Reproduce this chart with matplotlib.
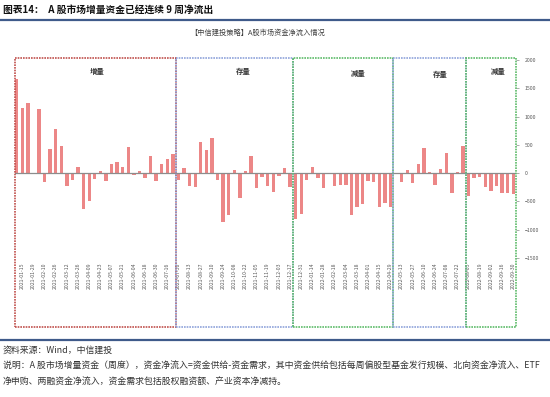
import matplotlib
matplotlib.use("Agg")
import matplotlib.pyplot as plt
from matplotlib.patches import Rectangle

plt.rcParams['font.family'] = ['Noto Sans CJK SC', 'DejaVu Sans']

# weekly net inflow (亿元), 2021-01-08 .. 2022-09-30
inflow = [1658, 1147, 1247, -20, 1135, -165, 435, 788, 476, -235,
          -118, 112, -635, -500, -100, 35, -135, 165, 194, 112,
          459, -41, 41, -94, 306, -141, 159, 253, 347, -118,
          94, -235, -247, 547, 406, 617, -129, -864, -741, 59,
          -447, 35, 300, -270, -65, -229, -341, -59, 82, -253,
          -811, -729, -129, 106, -88, -259, -18, -223, -218, -212,
          -747, -606, -553, -147, -159, -606, -523, -606, 0, -159,
          59, -182, 153, 447, 18, -212, 71, 353, -353, 12,
          476, -400, -94, -65, -247, -312, -223, -353, -347, -365]

tick_labels = ['2021-01-15', '2021-01-29', '2021-02-10', '2021-02-26', '2021-03-12',
               '2021-03-26', '2021-04-09', '2021-04-23', '2021-05-07', '2021-05-21',
               '2021-06-04', '2021-06-18', '2021-06-30', '2021-07-16', '2021-07-30',
               '2021-08-13', '2021-08-27', '2021-09-10', '2021-09-24', '2021-10-08',
               '2021-10-22', '2021-11-05', '2021-11-19', '2021-12-03', '2021-12-17',
               '2021-12-31', '2022-01-14', '2022-01-28', '2022-02-18', '2022-03-04',
               '2022-03-18', '2022-04-01', '2022-04-15', '2022-04-29', '2022-05-13',
               '2022-05-27', '2022-06-10', '2022-06-24', '2022-07-08', '2022-07-22',
               '2022-08-05', '2022-08-19', '2022-09-02', '2022-09-16', '2022-09-30']

# regime boxes: edges in bar-index units
regime_edges = [-0.3, 28.5, 49.5, 67.5, 80.5, 89.5]
regime_names = ['增量', '存量', '减量', '存量', '减量']
regime_colors = ['#C0504D', '#8FA3DA', '#5DBB6A', '#8FA3DA', '#5DBB6A']
name_x = [14.4, 40.6, 61.2, 75.9, 86.3]
name_y = [1790, 1807, 1754, 1737, 1790]

fig = plt.figure(figsize=(5.5, 3.97), dpi=100)
ax = fig.add_axes([15 / 550, 139 / 397, 501 / 550, 200 / 397])

x = list(range(len(inflow)))
ax.bar(x, inflow, width=0.6, color='#EC8787', zorder=2)
ax.axhline(0, color='#8C8C8C', lw=0.9, zorder=3)

ax.set_xlim(-0.3, 89.5)
ax.set_ylim(-1500, 2035)
box_bottom = -2719

for i in range(len(regime_names)):
    l, r = regime_edges[i], regime_edges[i + 1]
    ax.add_patch(Rectangle((l, box_bottom), r - l, 2035 - box_bottom,
                           fill=False, edgecolor=regime_colors[i], lw=1.2,
                           linestyle=(0, (1, 0.6)), clip_on=False, zorder=4))
    ax.text(name_x[i], name_y[i], regime_names[i], fontsize=5.3,
            fontweight='bold', ha='center', va='center', color='#333333')

for s in ax.spines.values():
    s.set_visible(False)

ax.set_xticks(range(1, 90, 2))
ax.set_xticklabels(tick_labels, rotation=90, fontsize=3.7, color='#595959')
ax.tick_params(axis='x', length=0, pad=3)

ax.yaxis.tick_right()
ax.set_yticks([-1500, -1000, -500, 0, 500, 1000, 1500, 2000])
ax.tick_params(axis='y', length=2, width=0.5, color='#8C8C8C',
               labelsize=3.7, labelcolor='#595959', pad=4)

# header / footer
fig.text(3 / 550, 1 - 10 / 397, '图表14：  A 股市场增量资金已经连续 9 周净流出',
         fontsize=7.0, fontweight='bold', va='center', ha='left', color='#111111')
fig.add_artist(plt.Line2D([0, 1], [1 - 20 / 397] * 2, color='#3F5A8A', lw=1.6))
fig.text(258 / 550, 1 - 33 / 397, '【中信建投策略】A股市场资金净流入情况',
         fontsize=5.2, ha='center', va='center', color='#404040')

fig.add_artist(plt.Line2D([0, 1], [1 - 340 / 397] * 2, color='#3F5A8A', lw=1.6))
fig.text(3 / 550, 1 - 350 / 397, '资料来源：Wind，中信建投',
         fontsize=6.4, va='center', ha='left', color='#333333', style='italic')
fig.text(3 / 550, 1 - 366 / 397,
         '说明：A 股市场增量资金（周度），资金净流入=资金供给-资金需求，其中资金供给包括每周偏股型基金发行规模、北向资金净流入、ETF',
         fontsize=6.4, va='center', ha='left', color='#333333', style='italic')
fig.text(3 / 550, 1 - 382 / 397, '净申购、两融资金净流入，资金需求包括股权融资额、产业资本净减持。',
         fontsize=6.4, va='center', ha='left', color='#333333', style='italic')

fig.savefig('out.png', dpi=100)
